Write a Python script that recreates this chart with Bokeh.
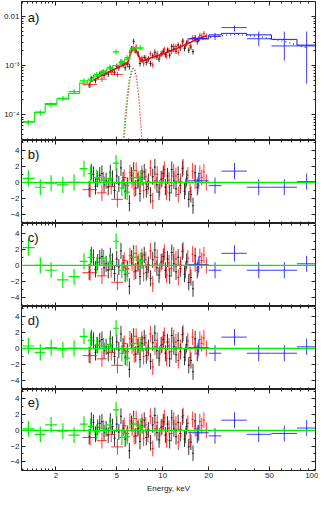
import numpy as np
from bokeh.plotting import figure
from bokeh.models import (ColumnDataSource, FixedTicker, LogAxis, LinearAxis, Range1d,
                          Label, CustomJSTickFormatter, BasicTickFormatter, Span,
                          CustomLabelingPolicy)
from bokeh.layouts import column
from bokeh.embed import file_html
from bokeh.resources import INLINE

# ---------------- data ----------------
green_lo = [1.21, 1.45, 1.70, 2.03, 2.42, 2.86, 3.22, 3.52, 3.90, 4.30, 4.72, 5.18, 5.62, 6.10, 6.75]
green_hi = [1.45, 1.70, 2.03, 2.42, 2.86, 3.22, 3.52, 3.90, 4.30, 4.72, 5.18, 5.62, 6.10, 6.75, 7.50]
green_E = [1.32, 1.58, 1.86, 2.22, 2.63, 3.05, 3.37, 3.70, 4.10, 4.51, 4.95, 5.40, 5.85, 6.42, 7.12]
green_flux = [7.1e-5, 1.10e-4, 1.60e-4, 2.15e-4, 2.95e-4, 4.9e-4, 5.3e-4, 6.6e-4, 7.6e-4, 9.2e-4,
              1.9e-3, 1.2e-3, 1.45e-3, 2.25e-3, 2.3e-3]
green_model = [7.3e-5, 1.13e-4, 1.68e-4, 2.1e-4, 2.7e-4, 4.4e-4, 4.9e-4, 6.1e-4, 7.3e-4, 8.6e-4,
               1.0e-3, 1.15e-3, 1.35e-3, 2.1e-3, 2.2e-3]
green_res_b = [0.5, -0.6, -0.1, -0.3, 0.0, 1.7, 1.1, 0.6, 0.3, 0.5, 2.4, -0.7, -1.2, 0.6, 0.5]
green_res_c = [2.2, 0.0, -0.6, -1.8, -1.4, 0.5, 1.0, 0.0, 0.9, 0.4, 3.0, -0.6, -1.0, 1.0, 0.6]
green_res_d = [0.3, -0.5, 0.1, -0.2, 0.0, 1.5, 1.0, 0.4, 0.3, 0.5, 2.5, -0.6, -1.2, 0.6, 0.4]
green_res_e = [0.2, -0.5, 0.7, -0.1, -0.6, 0.8, 0.5, -0.2, 0.3, 0.7, 2.6, -0.9, -0.8, 0.8, 0.5]

black_E = [3.30, 3.41, 3.52, 3.63, 3.75, 3.87, 4.00, 4.13, 4.26, 4.40, 4.54, 4.69, 4.84, 5.00,
           5.16, 5.33, 5.50, 5.68, 5.86, 6.05, 6.25, 6.45, 6.66, 6.88, 7.10, 7.33, 7.57, 7.81,
           8.06, 8.33, 8.60, 8.88, 9.16, 9.46, 9.77, 10.09, 10.41, 10.75, 11.10, 11.46, 11.83,
           12.22, 12.62, 13.03, 13.45, 13.89, 14.34, 14.80, 15.29, 15.78, 16.30, 16.83]
black_flux = [4.0e-4, 5.5e-4, 5.7e-4, 5.0e-4, 6.0e-4, 6.7e-4, 7.2e-4, 6.3e-4, 7.2e-4, 6.7e-4,
              8.8e-4, 8.5e-4, 7.3e-4, 9.7e-4, 9.0e-4, 1.18e-3, 1.04e-3, 9.0e-4, 1.05e-3, 9.5e-4,
              2.2e-3, 3.1e-3, 2.0e-3, 1.75e-3, 1.1e-3, 1.3e-3, 1.45e-3, 1.15e-3, 1.37e-3, 1.1e-3,
              1.58e-3, 1.87e-3, 1.49e-3, 1.35e-3, 1.74e-3, 1.97e-3, 1.66e-3, 2.06e-3, 1.62e-3,
              2.44e-3, 2.15e-3, 1.97e-3, 2.6e-3, 2.28e-3, 3.05e-3, 2.23e-3, 2.88e-3, 2.05e-3,
              2.38e-3, 1.92e-3, 3.7e-3, 3.07e-3]
black_res = [-0.8, 1.3, 1.0, -0.5, 0.4, 0.9, 1.1, -0.3, 0.2, -0.6, 1.2, 0.5, -1.0, 0.8, -0.2,
             1.8, 0.3, -1.1, -0.4, -2.6, 0.9, 1.5, -0.7, 0.2, -1.4, 0.6, 1.3, -0.9, 0.1, -1.6,
             0.7, 1.9, -0.3, -1.2, 0.4, 1.1, -0.6, 0.8, -1.3, 1.6, 0.2, -0.8, 1.0, -0.4, 1.7,
             -1.1, 0.5, -2.1, -1.5, -2.9, 1.2, -0.6]

red_E = [3.35, 4.00, 4.60, 5.05, 5.60, 5.90, 6.10, 6.30, 6.50, 6.70, 6.90, 7.10, 7.30, 7.50,
         7.75, 8.00, 8.30, 8.60, 8.90, 9.20, 9.55, 9.90, 10.25, 10.60, 11.00, 11.40, 11.80,
         12.20, 12.65, 13.10, 13.60, 14.10, 14.60, 15.10, 15.70, 16.30, 17.00, 17.50, 18.00,
         18.60, 19.30]
red_xerr = [0.37, 0.30, 0.30, 0.45, 0.20, 0.12, 0.10, 0.10, 0.10, 0.10, 0.10, 0.10, 0.10, 0.11,
            0.12, 0.13, 0.15, 0.15, 0.15, 0.16, 0.17, 0.17, 0.18, 0.19, 0.20, 0.20, 0.20, 0.21,
            0.22, 0.24, 0.25, 0.25, 0.26, 0.28, 0.30, 0.32, 0.34, 0.25, 0.28, 0.30, 0.40]
red_flux = [4.1e-4, 5.3e-4, 7.3e-4, 6.6e-4, 1.13e-3, 1.1e-3, 1.85e-3, 2.18e-3, 2.06e-3, 2.4e-3,
            1.78e-3, 1.32e-3, 1.4e-3, 1.09e-3, 1.42e-3, 1.27e-3, 1.75e-3, 1.03e-3, 1.56e-3,
            1.78e-3, 1.49e-3, 1.81e-3, 2.15e-3, 1.57e-3, 2.03e-3, 1.92e-3, 2.48e-3, 2.43e-3,
            1.85e-3, 2.45e-3, 3.18e-3, 2.47e-3, 3.13e-3, 2.53e-3, 3.66e-3, 3.35e-3, 3.32e-3,
            4.1e-3, 3.99e-3, 4.5e-3, 4.0e-3]
red_model = [4.6e-4, 6.3e-4, 7.8e-4, 9.0e-4, 1.05e-3, 1.15e-3, 1.6e-3, 2.1e-3, 2.3e-3, 2.0e-3,
             1.7e-3, 1.35e-3, 1.22e-3, 1.25e-3, 1.3e-3, 1.36e-3, 1.42e-3, 1.47e-3, 1.52e-3,
             1.58e-3, 1.64e-3, 1.7e-3, 1.78e-3, 1.86e-3, 1.95e-3, 2.03e-3, 2.12e-3, 2.2e-3,
             2.3e-3, 2.42e-3, 2.55e-3, 2.68e-3, 2.8e-3, 2.95e-3, 3.1e-3, 3.27e-3, 3.45e-3,
             3.58e-3, 3.7e-3, 3.85e-3, 4.0e-3]
red_res = [-0.9, -1.3, -0.5, -2.1, 0.6, -0.4, 1.2, 0.3, -0.8, 1.5, 0.4, -0.2, 1.1, -1.0, 0.7,
           -0.5, 1.8, -2.3, 0.2, 1.0, -0.7, 0.5, 1.6, -1.2, 0.3, -0.4, 1.3, 0.8, -1.5, 0.1, 1.9,
           -0.6, 0.9, -1.1, 1.4, 0.2, -0.3, 1.1, 0.6, 1.3, 0.0]

blue_lo = [14.7, 20.0, 24.2, 35.5, 51.5, 75.6]
blue_hi = [20.0, 24.2, 35.5, 51.5, 75.6, 100.0]
blue_E = [17.2, 22.0, 29.5, 42.5, 62.5, 87.5]
blue_flux = [3.5e-3, 3.9e-3, 5.9e-3, 3.5e-3, 2.5e-3, 2.5e-3]
blue_flux_lo = [3.0e-3, 3.3e-3, 4.9e-3, 2.5e-3, 1.26e-3, 4.3e-4]
blue_flux_hi = [4.0e-3, 4.6e-3, 6.5e-3, 4.9e-3, 4.9e-3, 4.9e-3]
blue_model = [3.5e-3, 4.2e-3, 4.5e-3, 4.2e-3, 3.4e-3, 2.6e-3]
blue_comp = [3.2e-3, 3.9e-3, 4.3e-3, 3.9e-3, 3.1e-3, 2.3e-3]
blue_res_b = [0.2, -0.4, 1.4, -0.6, -0.6, 0.1]
blue_res_c = [0.1, -0.6, 1.5, -0.6, -0.6, 0.2]
blue_res_d = [0.1, -0.6, 1.4, -0.6, -0.6, 0.2]
blue_res_e = [-0.3, -0.7, 1.3, -0.5, -0.4, 0.3]

line_E = [5.50, 5.65, 5.80, 5.95, 6.10, 6.25, 6.40, 6.55, 6.70, 6.85, 7.00, 7.15, 7.30]
line_green = [3.0e-5, 8.5e-5, 2.0e-4, 3.8e-4, 6.2e-4, 8.2e-4, 9.0e-4]
line_red = [2.0e-5, 5.0e-5, 1.3e-4, 2.8e-4, 5.0e-4, 7.4e-4, 8.8e-4, 8.2e-4, 6.2e-4, 3.8e-4,
            2.0e-4, 8.5e-5, 3.0e-5]

x_ticks = [2, 5, 10, 20, 50, 100]
x_minor = [1.2, 1.3, 1.4, 1.5, 1.6, 1.7, 1.8, 1.9, 3, 4, 6, 7, 8, 9, 30, 40, 60, 70, 80, 90]
res_ticks = [-4, -2, 0, 2, 4]
res_minor = [-5, -3, -1, 1, 3, 5]
flux_ticks = [1e-4, 1e-3, 1e-2]
flux_minor = [3e-5, 4e-5, 5e-5, 6e-5, 7e-5, 8e-5, 9e-5, 2e-4, 3e-4, 4e-4, 5e-4, 6e-4, 7e-4,
              8e-4, 9e-4, 2e-3, 3e-3, 4e-3, 5e-3, 6e-3, 7e-3, 8e-3, 9e-3, 2e-2]
panel_names = ["a)", "b)", "c)", "d)", "e)"]

# ---------------- styling ----------------
FONT = "Liberation Sans"
GREEN = "#00ee00"
RED = "#ff0000"
BLACK = "#000000"
BLUE = "#1a1aff"
WIDTH = 318
LEFT = 20
RIGHT = 3
X_START, X_END = 1.19, 100.0
FLUX_START, FLUX_END = 3.0e-5, 0.02
RES_START, RES_END = -5.1, 5.2

x_range = Range1d(X_START, X_END)


def hide_policy():
    return CustomLabelingPolicy(code="""
for (const i of indices) { indices.unset(i) }
""")


def style_axis(ax, show_labels):
    ax.major_tick_in = 4
    ax.major_tick_out = 0
    ax.minor_tick_in = 2
    ax.minor_tick_out = 0
    ax.axis_line_color = None
    ax.major_tick_line_color = "#222222"
    ax.minor_tick_line_color = "#222222"
    ax.major_label_text_font = FONT
    ax.major_label_text_color = "#222222"
    if show_labels:
        ax.major_label_text_font_size = "8px"
        ax.major_label_standoff = 2
    else:
        ax.major_label_text_font_size = "1px"
        ax.major_label_standoff = 0
        ax.major_label_policy = hide_policy()


def x_axes(p, bottom_labels, y_lo, y_hi):
    xt = FixedTicker(ticks=x_ticks, minor_ticks=x_minor)
    for ax in p.below:
        ax.ticker = xt
        ax.formatter = BasicTickFormatter()
        style_axis(ax, bottom_labels)
        if bottom_labels:
            ax.axis_label = "Energy, keV"
            ax.axis_label_text_font = FONT
            ax.axis_label_text_font_size = "8px"
            ax.axis_label_text_font_style = "normal"
            ax.axis_label_standoff = 3
            ax.axis_label_text_color = "#222222"
        else:
            ax.fixed_location = y_lo
    top = LogAxis(ticker=xt, formatter=BasicTickFormatter(), fixed_location=y_hi)
    style_axis(top, False)
    p.add_layout(top, "above")


def base_fig(height, y_type, y_lo, y_hi, bottom, top_border=0, bottom_border=0):
    p = figure(width=WIDTH, height=height, x_axis_type="log",
               y_axis_type=y_type, x_range=x_range, y_range=Range1d(y_lo, y_hi),
               output_backend="svg", toolbar_location=None,
               min_border_left=LEFT, min_border_right=RIGHT, min_border_top=top_border,
               min_border_bottom=bottom_border)
    p.outline_line_color = "#222222"
    p.outline_line_width = 1
    p.grid.visible = False
    p.background_fill_color = "white"
    p.border_fill_color = "white"
    x_axes(p, bottom, y_lo, y_hi)
    return p


def cross(p, xl, xh, yc, xc, yl, yh, color, alpha=1.0, width=1.0):
    src = ColumnDataSource(dict(xl=xl, xh=xh, yc=yc, xc=xc, yl=yl, yh=yh))
    p.segment(x0="xl", y0="yc", x1="xh", y1="yc", source=src, line_color=color,
              line_alpha=alpha, line_width=width)
    p.segment(x0="xc", y0="yl", x1="xc", y1="yh", source=src, line_color=color,
              line_alpha=alpha, line_width=width)


def edges(E):
    E = np.asarray(E, dtype=float)
    mids = np.sqrt(E[:-1] * E[1:])
    lo = np.concatenate([[E[0] ** 1.5 / mids[0] ** 0.5], mids])
    hi = np.concatenate([mids, [E[-1] ** 1.5 / mids[-1] ** 0.5]])
    return [float(v) for v in lo], [float(v) for v in hi]


black_lo, black_hi = edges(black_E)
red_lo = [e - w for e, w in zip(red_E, red_xerr)]
red_hi = [e + w for e, w in zip(red_E, red_xerr)]

# ---------------- panel a ----------------
pa = base_fig(140, "log", FLUX_START, FLUX_END, False, top_border=1)
yt = FixedTicker(ticks=flux_ticks, minor_ticks=flux_minor)
fmt = CustomJSTickFormatter(code="""
const e = Math.round(Math.log10(tick));
if (e == -2) { return '0.01'; }
if (e == -3) { return '10\u207b\u00b3'; }
return '10\u207b\u2074';
""")
for ax in pa.left:
    ax.ticker = yt
    ax.formatter = fmt
    style_axis(ax, True)
ra = LogAxis(ticker=yt, formatter=BasicTickFormatter(), fixed_location=X_END)
style_axis(ra, False)
pa.add_layout(ra, "right")

rel = 0.13
cross(pa, black_lo, black_hi, black_flux, black_E,
      [f * (1 - rel) for f in black_flux], [f * (1 + rel) for f in black_flux], BLACK, 0.8)
cross(pa, red_lo, red_hi, red_flux, red_E,
      [f * (1 - rel) for f in red_flux], [f * (1 + rel) for f in red_flux], RED, 0.8)
pa.line(red_E, red_model, line_color=RED, line_width=1.6)
pa.line(line_E, line_red, line_color="#cc0000", line_width=1.2, line_dash="1 2")
pa.line(line_E[:len(line_green)], line_green, line_color="#00cc00", line_width=1.2,
        line_dash="1 2")
pa.step(x=blue_lo + [blue_hi[-1]], y=blue_model + [blue_model[-1]], mode="after",
        line_color=BLUE, line_width=1.0)
pa.line(blue_E, blue_comp, line_color=BLUE, line_width=1.2, line_dash="1 3")
cross(pa, blue_lo, blue_hi, blue_flux, blue_E, blue_flux_lo, blue_flux_hi, BLUE, 0.85)
pa.step(x=green_lo + [green_hi[-1]], y=green_model + [green_model[-1]], mode="after",
        line_color=GREEN, line_width=1.1)
cross(pa, green_lo, green_hi, green_flux, green_E,
      [f * 0.88 for f in green_flux], [f * 1.12 for f in green_flux], GREEN, 1.0, 1.2)
pa.add_layout(Label(x=1.31, y=0.0095, text=panel_names[0], text_font=FONT,
                    text_font_size="13px", text_baseline="middle", text_color="#111111"))

figs = [pa]
green_sets = [green_res_b, green_res_c, green_res_d, green_res_e]
blue_sets = [blue_res_b, blue_res_c, blue_res_d, blue_res_e]
BOTTOM = 23
for i in range(4):
    last = i == 3
    p = base_fig(83 + (BOTTOM if last else 0), "linear", RES_START, RES_END, last,
                 bottom_border=(BOTTOM if last else 0))
    rt = FixedTicker(ticks=res_ticks, minor_ticks=res_minor)
    for ax in p.left:
        ax.ticker = rt
        style_axis(ax, True)
    rax = LinearAxis(ticker=rt, fixed_location=X_END)
    style_axis(rax, False)
    p.add_layout(rax, "right")
    cross(p, black_lo, black_hi, black_res, black_E,
          [r - 1 for r in black_res], [r + 1 for r in black_res], BLACK, 0.8)
    cross(p, red_lo, red_hi, red_res, red_E,
          [r - 1 for r in red_res], [r + 1 for r in red_res], RED, 0.8)
    br = blue_sets[i]
    cross(p, blue_lo, blue_hi, br, blue_E, [r - 1 for r in br], [r + 1 for r in br], BLUE, 0.85)
    gr = green_sets[i]
    cross(p, green_lo, green_hi, gr, green_E, [r - 1 for r in gr], [r + 1 for r in gr],
          GREEN, 1.0, 1.2)
    p.add_layout(Span(location=0, dimension="width", line_color=GREEN, line_width=1.3))
    p.add_layout(Label(x=1.31, y=3.5, text=panel_names[i + 1], text_font=FONT,
                       text_font_size="13px", text_baseline="middle", text_color="#111111"))
    figs.append(p)

layout = column(*figs, spacing=0)
open("out.html", "w").write(file_html(layout, INLINE))
